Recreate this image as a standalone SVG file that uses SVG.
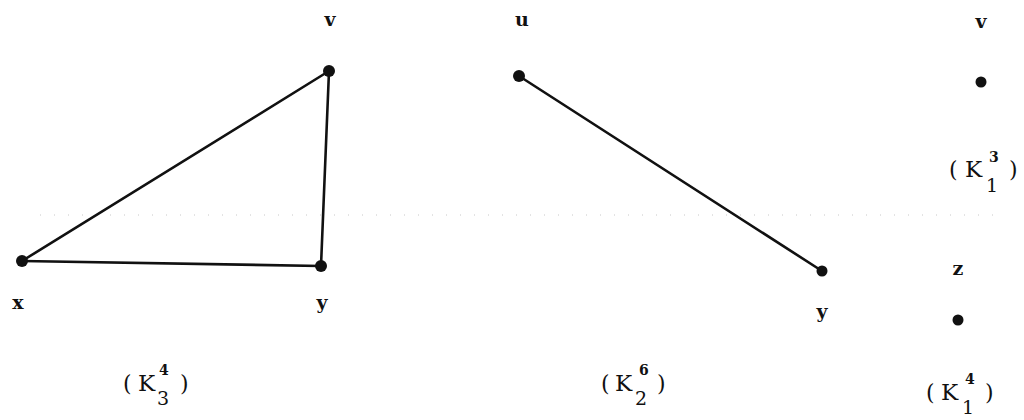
<svg xmlns="http://www.w3.org/2000/svg" width="1024" height="420" viewBox="0 0 1024 420">
<style>
.e{stroke:#111;stroke-width:2.6;stroke-linecap:round;fill:none}
.d{fill:#111}
.t{font-family:"DejaVu Serif","Liberation Serif",serif;font-size:19px;font-weight:bold;fill:#111;text-anchor:middle}
.k{font-family:"DejaVu Serif","Liberation Serif",serif;font-size:23px;fill:#111}
.p{font-family:"DejaVu Serif","Liberation Serif",serif;font-size:22px;fill:#111}
.sp{font-family:"DejaVu Serif","Liberation Serif",serif;font-size:14px;font-weight:bold;fill:#111}
.sb{font-family:"DejaVu Serif","Liberation Serif",serif;font-size:19px;fill:#111}
.n{stroke:#c8c8c8;stroke-width:1;stroke-dasharray:1 13;fill:none}
</style>
<rect width="1024" height="420" fill="#fff"/>
<path class="n" d="M40 215H1000"/>
<g id="connectors">
<line class="e" x1="22" y1="261" x2="329" y2="71"/>
<line class="e" x1="329" y1="71" x2="321" y2="266"/>
<line class="e" x1="22" y1="261" x2="321" y2="266"/>
<line class="e" x1="519" y1="76" x2="822" y2="271"/>
</g>
<g id="K34-v"><circle class="d" cx="329" cy="71" r="6"/><text class="t" x="330" y="26">v</text></g>
<g id="K34-x"><circle class="d" cx="22" cy="261" r="6"/><text class="t" x="18" y="309">x</text></g>
<g id="K34-y"><circle class="d" cx="321" cy="266" r="6"/><text class="t" x="322" y="309">y</text></g>
<g id="K34-label"><text class="p" x="123" y="391">(</text><text class="k" x="138" y="391">K</text><text class="sp" x="159" y="375">4</text><text class="sb" x="157" y="405">3</text><text class="p" x="180" y="391">)</text></g>
<g id="K26-u"><circle class="d" cx="519" cy="76" r="6"/><text class="t" x="522" y="26">u</text></g>
<g id="K26-y"><circle class="d" cx="822" cy="271" r="5.5"/><text class="t" x="822" y="318">y</text></g>
<g id="K26-label"><text class="p" x="601" y="391">(</text><text class="k" x="615" y="391">K</text><text class="sp" x="639" y="375">6</text><text class="sb" x="635" y="405">2</text><text class="p" x="657" y="391">)</text></g>
<g id="K13-v"><circle class="d" cx="981" cy="82" r="5.5"/><text class="t" x="981" y="28">v</text></g>
<g id="K13-label"><text class="p" x="949" y="177">(</text><text class="k" x="965" y="177">K</text><text class="sp" x="989" y="162">3</text><text class="sb" x="986" y="192">1</text><text class="p" x="1009" y="177">)</text></g>
<g id="K14-z"><circle class="d" cx="958" cy="320" r="5.5"/><text class="t" x="958" y="275">z</text></g>
<g id="K14-label"><text class="p" x="926" y="400">(</text><text class="k" x="941" y="400">K</text><text class="sp" x="965" y="384">4</text><text class="sb" x="962" y="414">1</text><text class="p" x="985" y="400">)</text></g>
</svg>
